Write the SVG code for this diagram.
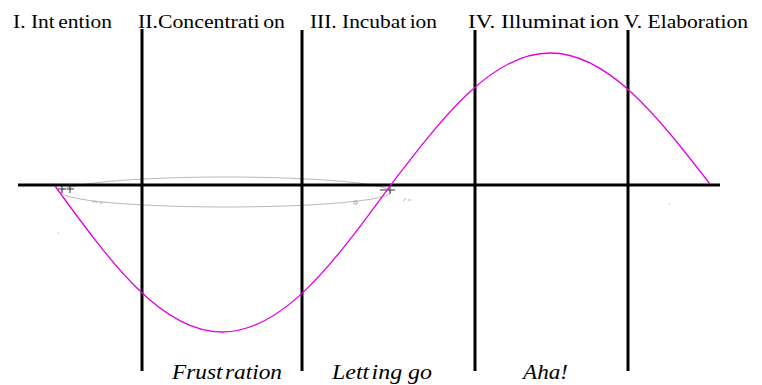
<svg xmlns="http://www.w3.org/2000/svg" width="762" height="385" viewBox="0 0 762 385">
<style>
.lbl{font-family:'Liberation Serif',serif;font-size:18px;fill:#000}
.it{font-family:'Liberation Serif',serif;font-size:20px;font-style:italic;fill:#000}
.bar{stroke:#000;stroke-width:3;fill:none}
.ghost{stroke:#b8b8b8;stroke-width:1;fill:none}
.mark{stroke:#333;stroke-width:1;fill:none}
</style>
<rect width="762" height="385" fill="#fff"/>
<g id="guide">
<ellipse class="ghost" cx="226" cy="192" rx="165" ry="15"/>
<path class="mark" d="M58 189h8M62 185v8M67 189h7M70 185v8M380 190h15M390 186v8"/>
<path d="M92 203c2-2 4-2 5 0M99 202c1 2 3 2 4 0M354 201h3v3h-3zM403 201l3-3M408 200h3M669 204h1M58 233h1" stroke="#999" stroke-width="0.8" fill="none"/>
</g>
<g id="connectors">
<line class="bar" x1="18" y1="185" x2="720" y2="185"/>
<line class="bar" x1="142" y1="29" x2="142" y2="371"/>
<line class="bar" x1="302" y1="30" x2="302" y2="371"/>
<line class="bar" x1="475" y1="30" x2="475" y2="371"/>
<line class="bar" x1="628" y1="30" x2="628" y2="371"/>
</g>
<g id="curve">
<path d="M55 186C110.8 262.7 161.3 332 222 332C283.1 332 333.8 262.7 390 186C443.5 116.2 491.9 53 550 53C608.1 53 656.5 115.2 710 184" stroke="#e000e0" stroke-width="1.3" fill="none"/>
</g>
<g id="stage-labels">
<text class="lbl" x="13" y="27.5" textLength="99" lengthAdjust="spacingAndGlyphs">I. Int<tspan dx="3">ention</tspan></text>
<text class="lbl" x="138" y="27.5" textLength="147" lengthAdjust="spacingAndGlyphs">II.Concentrati<tspan dx="3">on</tspan></text>
<text class="lbl" x="310" y="27.5" textLength="127" lengthAdjust="spacingAndGlyphs">III. Incubat<tspan dx="3">ion</tspan></text>
<text class="lbl" x="468" y="27.5" textLength="151" lengthAdjust="spacingAndGlyphs">IV. Illuminat<tspan dx="3">ion</tspan></text>
<text class="lbl" x="624" y="27.5" textLength="124" lengthAdjust="spacingAndGlyphs">V. Elaboration</text>
</g>
<g id="phase-labels">
<text class="it" x="172" y="379" textLength="110" lengthAdjust="spacingAndGlyphs">Frust<tspan dx="2">ration</tspan></text>
<text class="it" x="332" y="379" textLength="100" lengthAdjust="spacingAndGlyphs">Lett<tspan dx="2">ing go</tspan></text>
<text class="it" x="523" y="379" textLength="45" lengthAdjust="spacingAndGlyphs">Aha!</text>
</g>
</svg>
